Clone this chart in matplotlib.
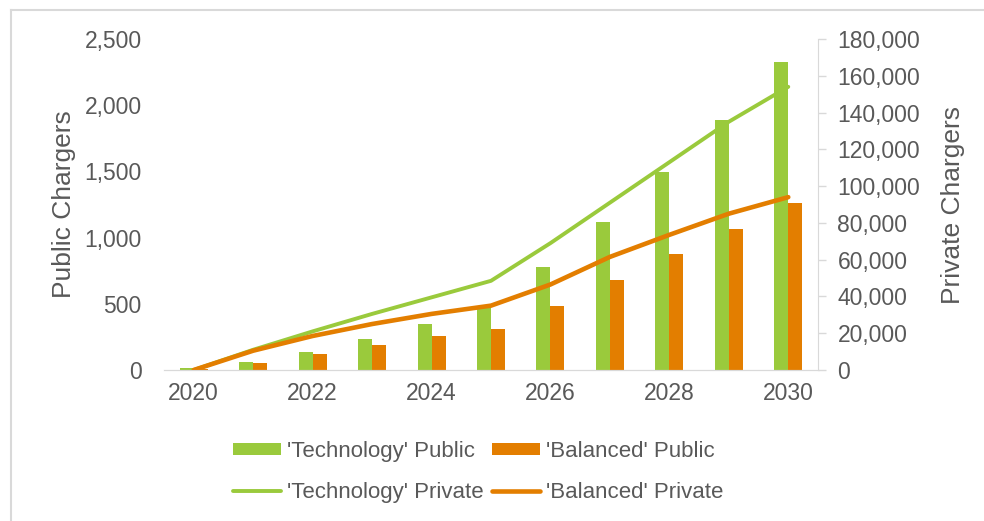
import numpy as np
import matplotlib.pyplot as plt
from matplotlib.lines import Line2D
from matplotlib.ticker import FuncFormatter

plt.rcParams['font.family'] = ['Liberation Sans', 'DejaVu Sans']

years = [2020, 2021, 2022, 2023, 2024, 2025, 2026, 2027, 2028, 2029, 2030]
tech_public = [12, 60, 138, 234, 350, 470, 775, 1115, 1493, 1888, 2329]
bal_public = [8, 55, 118, 186, 254, 312, 486, 680, 874, 1067, 1259]
tech_private = [0, 11000, 21000, 30500, 39500, 48500, 69000, 91000, 113000, 135000, 154000]
bal_private = [0, 10500, 18500, 25000, 30500, 35000, 46500, 61500, 73500, 85000, 94000]

GREEN = '#9ACA3C'
ORANGE = '#E37E00'
GREY = '#595959'
LIGHT = '#D9D9D9'

W, H = 984, 521
fig = plt.figure(figsize=(W / 100, H / 100), dpi=100)

# chart frame, only its top and left edges fall inside the picture
fig.add_artist(Line2D([11 / W, 11 / W], [0, 1 - 10 / H], transform=fig.transFigure,
                      color=LIGHT, lw=1.5))
fig.add_artist(Line2D([11 / W, 1], [1 - 10 / H, 1 - 10 / H], transform=fig.transFigure,
                      color=LIGHT, lw=1.5))

ax = fig.add_axes([164 / W, 1 - 370 / H, 654 / W, 331 / H])
ax2 = ax.twinx()

x = np.arange(len(years))
w = 0.235
b1 = ax.bar(x - w / 2, tech_public, w, color=GREEN, label="'Technology' Public")
b2 = ax.bar(x + w / 2, bal_public, w, color=ORANGE, label="'Balanced' Public")
l1, = ax2.plot(x, tech_private, color=GREEN, lw=2.8, solid_capstyle='round',
               label="'Technology' Private")
l2, = ax2.plot(x, bal_private, color=ORANGE, lw=3.3, solid_capstyle='round',
               label="'Balanced' Private")

fmt = FuncFormatter(lambda v, p: '{:,.0f}'.format(v))

ax.set_xlim(-0.5, len(years) - 0.5)
ax.set_ylim(0, 2500)
ax.set_yticks(np.arange(0, 2501, 500))
ax.yaxis.set_major_formatter(fmt)
ax.set_xticks(x[::2])
ax.set_xticklabels([str(y) for y in years[::2]])
ax.tick_params(axis='x', length=0, labelsize=16.5, labelcolor=GREY, pad=9)
ax.tick_params(axis='y', length=0, labelsize=16.5, labelcolor=GREY, pad=16)
ax.set_ylabel('Public Chargers', fontsize=19, color=GREY, labelpad=6)

ax2.set_ylim(0, 180000)
ax2.set_yticks(np.arange(0, 180001, 20000))
ax2.yaxis.set_major_formatter(fmt)
ax2.tick_params(axis='y', length=6, width=1, color=LIGHT, labelsize=16.5,
                labelcolor=GREY, pad=8)
ax2.set_ylabel('Private Chargers', fontsize=19, color=GREY, labelpad=15)

for a in (ax, ax2):
    a.spines['top'].set_visible(False)
    a.spines['left'].set_visible(False)
    a.spines['right'].set_visible(False)
    a.spines['bottom'].set_color(LIGHT)
ax2.spines['right'].set_visible(True)
ax2.spines['right'].set_color(LIGHT)

fig.legend([b1, l1, b2, l2],
           [b1.get_label(), l1.get_label(), b2.get_label(), l2.get_label()],
           ncol=2, loc='center', bbox_to_anchor=(478 / W, 1 - 472 / H), frameon=False,
           fontsize=16, labelcolor=GREY, handlelength=2.15, handleheight=0.45,
           handletextpad=0.27, columnspacing=0.4, labelspacing=0.88)

fig.savefig('out.png', dpi=100)
